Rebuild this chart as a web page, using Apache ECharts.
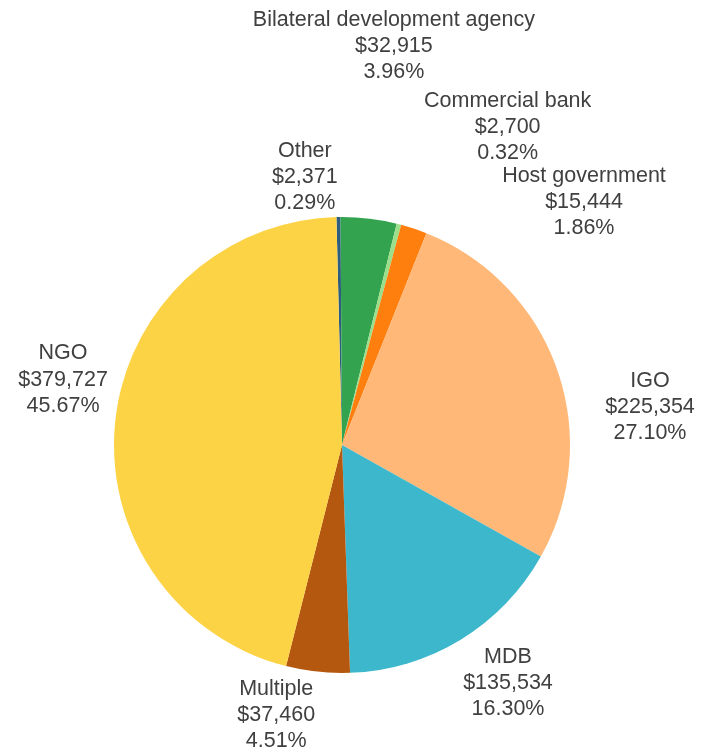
<!DOCTYPE html>
<html>
<head>
<meta charset="utf-8">
<script src="https://cdn.jsdelivr.net/npm/echarts@6/dist/echarts.min.js"></script>
<style>
  html, body { margin: 0; padding: 0; background: #ffffff; }
  #chart { width: 716px; height: 752px; }
</style>
</head>
<body>
<div id="chart"></div>
<script>
// ---- data ----
var categories = ['Other', 'Bilateral development agency', 'Commercial bank', 'Host government', 'IGO', 'MDB', 'Multiple', 'NGO'];
var amounts = [2371, 32915, 2700, 15444, 225354, 135534, 37460, 379727];
var sliceColors = ['#2d5e7f', '#34a350', '#9bdf8b', '#ff7f0e', '#ffb877', '#3cb7cc', '#b5580f', '#fdd346'];

// ---- layout (label placement around the pie) ----
var CX = 342, CY = 445, R = 228;
var START = 91.4; // pie begins slightly left of 12 o'clock
var labelTurn = [-8.2, -0.6, 11.8, 25.2, 11.1, -5.1, 6.0, 5.4];   // degrees added to nominal mid-angle
var labelGap  = [42.4, 174.5, 131, 115.7, 83.3, 62.7, 49.7, 57.5]; // distance beyond the rim

var total = amounts.reduce(function (a, b) { return a + b; }, 0);
var midAngles = [];
(function () {
  var cum = 0;
  for (var i = 0; i < amounts.length; i++) {
    midAngles.push((cum + amounts[i] / 2) / total * 360);
    cum += amounts[i];
  }
})();

function fmtMoney(v) {
  return '$' + v.toString().replace(/\B(?=(\d{3})+(?!\d))/g, ',');
}

var chart = echarts.init(document.getElementById('chart'), null, { renderer: 'canvas' });
chart.setOption({
  animation: false,
  backgroundColor: '#ffffff',
  series: [{
    type: 'pie',
    center: [CX, CY],
    radius: [0, R],
    startAngle: START,
    clockwise: true,
    avoidLabelOverlap: false,
    data: categories.map(function (c, i) {
      return { name: c, value: amounts[i], itemStyle: { color: sliceColors[i] } };
    }),
    itemStyle: { borderWidth: 0 },
    emphasis: { disabled: true },
    label: {
      show: true,
      position: 'outside',
      fontFamily: 'Liberation Sans, Arial, sans-serif',
      fontSize: 21.5,
      lineHeight: 26.3,
      color: '#404040',
      formatter: function (p) {
        return p.name + '\n' + fmtMoney(p.value) + '\n' + (p.value / total * 100).toFixed(2) + '%';
      }
    },
    labelLine: { show: false },
    labelLayout: function (params) {
      var i = params.dataIndex;
      var th = (midAngles[i] + labelTurn[i]) * Math.PI / 180;
      var d = R + labelGap[i];
      return {
        x: CX - 1 + Math.sin(th) * d,
        y: CY - Math.cos(th) * d,
        align: 'center',
        verticalAlign: 'middle'
      };
    }
  }]
});
</script>
</body>
</html>
